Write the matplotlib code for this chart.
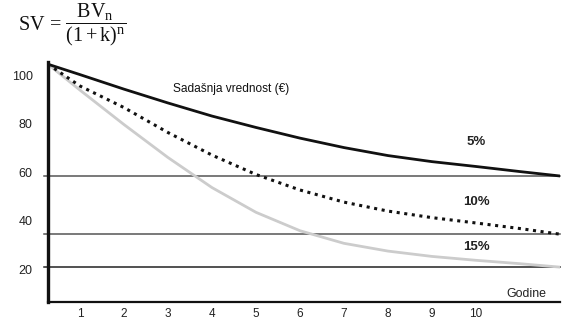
import matplotlib
matplotlib.use("Agg")
import matplotlib.pyplot as plt

plt.rcParams['font.family'] = ['Liberation Sans', 'DejaVu Sans']
plt.rcParams['mathtext.fontset'] = 'custom'
plt.rcParams['mathtext.rm'] = 'Liberation Serif'
plt.rcParams['mathtext.it'] = 'Liberation Serif:italic'

# Years and present value of 100 € discounted at 5 %, 10 % and 15 %
years = [0.27, 1, 2, 3, 4, 5, 6, 7, 8, 9, 10, 11, 11.9]
pv_5 = [104.5, 100.2, 94.2, 88.5, 83.1, 78.4, 74.0, 70.1, 66.8, 64.3, 62.3, 60.2, 58.4]
pv_10 = [104.5, 95.5, 86.6, 76.3, 67.0, 59.0, 52.6, 47.6, 43.9, 41.2, 39.0, 36.7, 34.4]
pv_15 = [104.5, 93.8, 79.6, 66.0, 53.6, 43.4, 35.8, 30.6, 27.4, 25.2, 23.6, 22.2, 20.8]

rate_labels = ['5%', '10%', '15%']
y_ticks = [100, 80, 60, 40, 20]
x_ticks = [1, 2, 3, 4, 5, 6, 7, 8, 9, 10]

fig = plt.figure(figsize=(5.62, 3.2), dpi=100)
ax = fig.add_axes([0.0854, 0.05625, 0.911, 0.75])
ax.set_xlim(0.273, 11.91)
ax.set_ylim(6.4, 105.4)

# reference levels reached by each curve at the horizon
for level, col in [(pv_5[-1], '#555555'), (pv_10[-1], '#555555'), (pv_15[-1], '#222222')]:
    ax.axhline(level, xmin=-0.008, xmax=1.0, color=col, lw=1.1, clip_on=False, zorder=1)

ax.plot(years, pv_15, color='#cccccc', lw=2.0, solid_joinstyle='round', zorder=2)
ax.plot(years, pv_10, color='#111111', lw=2.2, linestyle=(0, (1, 1.5)),
        dash_capstyle='butt', zorder=3)
ax.plot(years, pv_5, color='#111111', lw=2.0, solid_joinstyle='round', zorder=4)

for sp in ['top', 'right']:
    ax.spines[sp].set_visible(False)
ax.spines['left'].set_linewidth(2.4)
ax.spines['bottom'].set_linewidth(1.6)
ax.spines['left'].set_color('#111111')
ax.spines['bottom'].set_color('#111111')

ax.set_yticks(y_ticks)
ax.set_yticklabels([str(v) for v in y_ticks], fontsize=9, color='#222222')
ax.set_xticks(x_ticks)
ax.set_xticklabels([str(v) for v in x_ticks], fontsize=8.5, color='#222222')
ax.tick_params(axis='y', length=0, pad=11)
ax.tick_params(axis='x', length=0, pad=4)

ax.text(3.11, 94.2, 'Sadašnja vrednost (€)', fontsize=8.6, ha='left', va='center', color='#111111')
ax.text(10.0, 72.4, rate_labels[0], fontsize=9.5, fontweight='bold', ha='center', va='center', color='#222222')
ax.text(10.0, 47.6, rate_labels[1], fontsize=9.5, fontweight='bold', ha='center', va='center', color='#222222')
ax.text(10.0, 29.1, rate_labels[2], fontsize=9.5, fontweight='bold', ha='center', va='center', color='#222222')
ax.text(11.14, 9.7, 'Godine', fontsize=8.9, ha='center', va='center', color='#222222')

fig.text(0.032, 0.922, r'$\mathrm{SV}\,=\,\dfrac{\mathrm{BV_n}}{(1+\mathrm{k})^{\mathrm{n}}}$',
         fontsize=14.5, ha='left', va='center', color='#111111')

fig.savefig('out.png', dpi=100)
